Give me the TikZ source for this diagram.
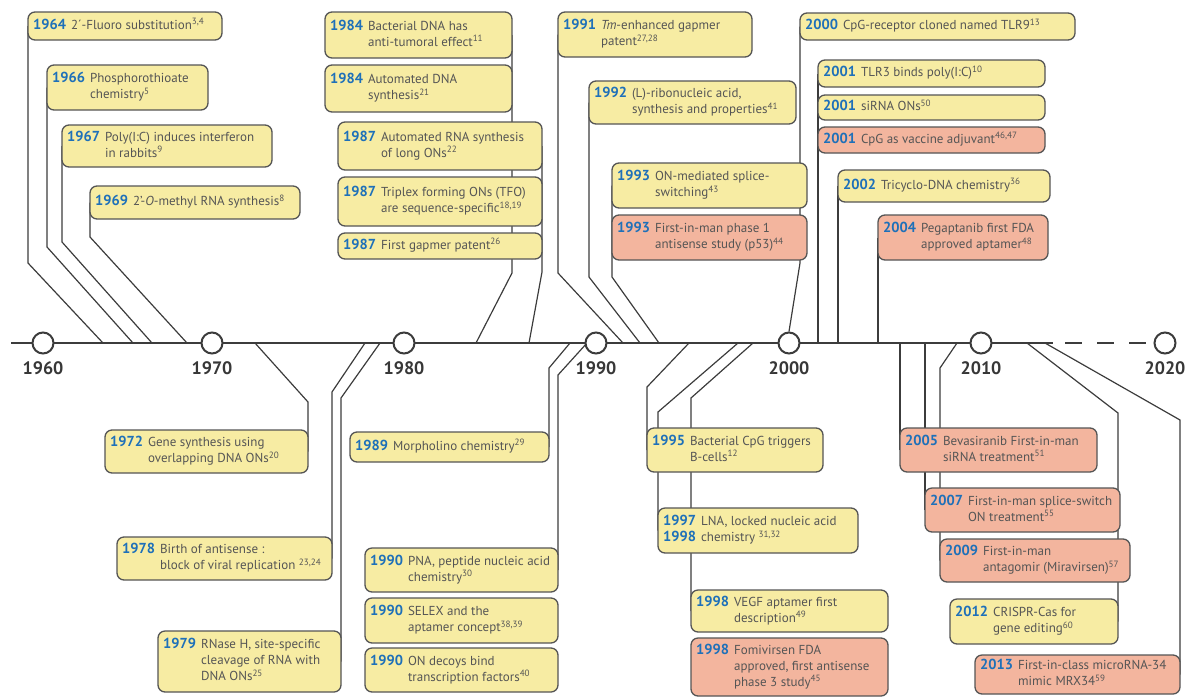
\documentclass[tikz,border=0pt]{standalone}
\usepackage{fontspec}
\setmainfont{PT Sans}
\usetikzlibrary{backgrounds}
\definecolor{yfill}{RGB}{247,236,163}
\definecolor{pfill}{RGB}{243,181,158}
\definecolor{bdraw}{RGB}{85,85,85}
\definecolor{yblue}{RGB}{30,112,185}
\definecolor{tgray}{RGB}{85,85,85}
\definecolor{lcol}{RGB}{60,60,60}
\definecolor{labcol}{RGB}{55,55,55}
\newcommand\yrfont{\fontsize{14.5}{16}\selectfont\bfseries\color{yblue}}
\newcommand\evbox[8]{%
  \node[#2, minimum width={#5-#3}, minimum height={#6-#4}, anchor=north west] (#1) at (#3,#4) {};
  \node[evtext, anchor=west] (#1t) at ([xshift=5pt]#1.west) {{\yrfont #7}\hspace{5pt}\begin{tabular}[t]{@{}l@{}}#8\end{tabular}};}
\newcommand\sps[1]{\textsuperscript{#1}}
\tikzset{
  ybox/.style={draw=bdraw, line width=1.3pt, fill=yfill, rounded corners=7pt, inner sep=0pt, outer sep=0pt},
  pbox/.style={ybox, fill=pfill},
  evtext/.style={inner sep=0pt, text=tgray, font=\fontsize{13}{16}\selectfont},
  tick/.style={circle, draw=lcol, line width=2pt, fill=white, minimum size=21pt, inner sep=0pt},
  ylab/.style={font=\fontsize{18}{18}\selectfont\bfseries, text=labcol, inner sep=0pt},
  axisline/.style={draw=lcol, line width=2pt},
  conn/.style={draw=lcol, line width=1.2pt},
}
\begin{document}
\begin{tikzpicture}[x=1pt,y=-1pt]
\useasboundingbox (0,0) rectangle (1191,697);
% axis ticks
\node[tick] (c1960) at (43,343) {};
\node[tick] (c1970) at (212,343) {};
\node[tick] (c1980) at (404,343) {};
\node[tick] (c1990) at (596,343) {};
\node[tick] (c2000) at (789,343) {};
\node[tick] (c2010) at (981,343) {};
\node[tick] (c2020) at (1165,343) {};
\node[ylab] (l1960) at (43,368) {1960};
\node[ylab] (l1970) at (212,368) {1970};
\node[ylab] (l1980) at (404,368) {1980};
\node[ylab] (l1990) at (596,368) {1990};
\node[ylab] (l2000) at (789,368) {2000};
\node[ylab] (l2010) at (981,368) {2010};
\node[ylab] (l2020) at (1165,368) {2020};
\coordinate (axL) at (11,343);
\coordinate (axE) at (1053,343);
\coordinate (axD) at (1065,343);
% top boxes
\evbox{b1964}{ybox}{28}{12}{222}{40}{1964}{2´-Fluoro substitution\sps{3,4}}
\evbox{b1966}{ybox}{47}{65}{208}{110}{1966}{Phosphorothioate\\chemistry\sps{5}}
\evbox{b1967}{ybox}{62}{125}{272}{167}{1967}{Poly(I:C) induces interferon\\in rabbits\sps{9}}
\evbox{b1969}{ybox}{90}{186}{300}{219}{1969}{2'-\textit{O}-methyl RNA synthesis\sps{8}}
\evbox{b1984a}{ybox}{325}{12}{512}{58}{1984}{Bacterial DNA has\\anti-tumoral effect\sps{11}}
\evbox{b1984b}{ybox}{325}{65}{512}{112}{1984}{Automated DNA\\synthesis\sps{21}}
\evbox{b1987a}{ybox}{338}{122}{542}{170}{1987}{Automated RNA synthesis\\of long ONs\sps{22}}
\evbox{b1987b}{ybox}{338}{177}{542}{226}{1987}{Triplex forming ONs (TFO)\\are sequence-specific\sps{18,19}}
\evbox{b1987c}{ybox}{338}{233}{542}{259}{1987}{First gapmer patent\sps{26}}
\evbox{b1991}{ybox}{558}{12}{752}{57}{1991}{\textit{Tm}-enhanced gapmer\\patent\sps{27,28}}
\evbox{b1992}{ybox}{589}{81}{796}{124}{1992}{(L)-ribonucleic acid,\\synthesis and properties\sps{41}}
\evbox{b1993a}{ybox}{612}{163}{807}{208}{1993}{ON-mediated splice-\\switching\sps{43}}
\evbox{b1993b}{pbox}{612}{215}{807}{260}{1993}{First-in-man phase 1\\antisense study (p53)\sps{44}}
\evbox{b2000}{ybox}{800}{13}{1075}{40}{2000}{CpG-receptor cloned named TLR9\sps{13}}
\evbox{b2001a}{ybox}{818}{60}{1045}{87}{2001}{TLR3 binds poly(I:C)\sps{10}}
\evbox{b2001b}{ybox}{818}{95}{1045}{120}{2001}{siRNA ONs\sps{50}}
\evbox{b2001c}{pbox}{818}{127}{1045}{153}{2001}{CpG as vaccine adjuvant\sps{46,47}}
\evbox{b2002}{ybox}{838}{170}{1050}{202}{2002}{Tricyclo-DNA chemistry\sps{36}}
\evbox{b2004}{pbox}{878}{215}{1048}{260}{2004}{Pegaptanib first FDA\\approved aptamer\sps{48}}
% bottom boxes
\evbox{b1972}{ybox}{105}{430}{308}{473}{1972}{Gene synthesis using\\overlapping DNA ONs\sps{20}}
\evbox{b1978}{ybox}{117}{537}{332}{580}{1978}{Birth of antisense :\\block of viral replication \sps{23,24}}
\evbox{b1979}{ybox}{158}{631}{341}{692}{1979}{RNase H, site-specific\\cleavage of RNA with\\DNA ONs\sps{25}}
\evbox{b1989}{ybox}{350}{432}{549}{462}{1989}{Morpholino chemistry\sps{29}}
\evbox{b1990a}{ybox}{365}{548}{558}{592}{1990}{PNA, peptide nucleic acid\\chemistry\sps{30}}
\evbox{b1990b}{ybox}{365}{598}{558}{643}{1990}{SELEX and the\\aptamer concept\sps{38,39}}
\evbox{b1990c}{ybox}{365}{648}{558}{692}{1990}{ON decoys bind\\transcription factors\sps{40}}
\evbox{b1995}{ybox}{647}{428}{823}{472}{1995}{Bacterial CpG triggers\\B-cells\sps{12}}
\evbox{b1997}{ybox}{658}{508}{858}{553}{\begin{tabular}[t]{@{}l@{}}1997\\1998\end{tabular}}{LNA, locked nucleic acid\\chemistry \sps{31,32}}
\evbox{b1998a}{ybox}{691}{590}{888}{632}{1998}{VEGF aptamer first\\description\sps{49}}
\evbox{b1998b}{pbox}{691}{638}{888}{696}{1998}{Fomivirsen FDA\\approved, first antisense\\phase 3 study\sps{45}}
\evbox{b2005}{pbox}{900}{428}{1097}{472}{2005}{Bevasiranib First-in-man\\siRNA treatment\sps{51}}
\evbox{b2007}{pbox}{925}{488}{1120}{532}{2007}{First-in-man splice-switch\\ON treatment\sps{55}}
\evbox{b2009}{pbox}{940}{539}{1130}{582}{2009}{First-in-man\\antagomir (Miravirsen)\sps{57}}
\evbox{b2012}{ybox}{950}{599}{1118}{644}{2012}{CRISPR-Cas for\\gene editing\sps{60}}
\evbox{b2013}{pbox}{975}{655}{1180}{694}{2013}{First-in-class microRNA-34\\mimic MRX34\sps{59}}
% axis points
\coordinate (a1964) at (103,343);
\coordinate (a1966) at (133,343);
\coordinate (a1967) at (152,343);
\coordinate (a1969) at (187,343);
\coordinate (a1984) at (476,343);
\coordinate (a1987) at (529,343);
\coordinate (a1991) at (623,343);
\coordinate (a1992) at (640,343);
\coordinate (a1993) at (659,343);
\coordinate (a1972) at (255,343);
\coordinate (a1978) at (365,343);
\coordinate (a1979) at (380,343);
\coordinate (a1989) at (570,343);
\coordinate (a1990) at (587,343);
\coordinate (a1995) at (689,343);
\coordinate (a1997) at (738,343);
\coordinate (a1998) at (753,343);
\coordinate (a2009) at (957,343);
\coordinate (a2012) at (1027,343);
\coordinate (a2013) at (1045,343);
\begin{pgfonlayer}{background}
\draw[axisline] (axL) -- (axE);
\draw[axisline, dash pattern=on 17pt off 15pt] (axD) -- (c2020.west);
% top connectors
\draw[conn] (b1964.west) -- (b1964.west |- 0,263) -- (a1964);
\draw[conn] (b1966.west) -- (b1966.west |- 0,247) -- (a1966);
\draw[conn] (b1967.west) -- (b1967.west |- 0,242) -- (a1967);
\draw[conn] (b1969.west) -- (b1969.west |- 0,237) -- (a1969);
\draw[conn] (b1984a.east) -- (b1984a.east |- 0,273) -- (a1984);
\draw[conn] (b1987a.east) -- (b1987a.east |- 0,272) -- (a1987);
\draw[conn] (b1991.west) -- (b1991.west |- 0,273) -- (a1991);
\draw[conn] (b1992.west) -- (b1992.west |- 0,277) -- (a1992);
\draw[conn] (b1993a.west) -- (b1993a.west |- 0,277) -- (a1993);
\draw[conn] (b2000.west) -- (b2000.west |- 0,263) -- (c2000.north);
\draw[conn] (b2001a.west) -- (b2001a.west |- axL);
\draw[conn] (b2002.west) -- (b2002.west |- axL);
\draw[conn] (b2004.west) -- (b2004.west |- axL);
% bottom connectors
\draw[conn] (b1972.east) -- (b1972.east |- 0,402) -- (a1972);
\draw[conn] (b1978.east) -- (b1978.east |- 0,392) -- (a1978);
\draw[conn] (b1979.east) -- (b1979.east |- 0,398) -- (a1979);
\draw[conn] (b1989.east) -- (b1989.east |- 0,368) -- (a1989);
\draw[conn] (b1990a.east) -- (b1990a.east |- 0,375) -- (a1990);
\draw[conn] (b1995.west) -- (b1995.west |- 0,387) -- (a1995);
\draw[conn] (b1997.west) -- (b1997.west |- 0,412) -- (a1997);
\draw[conn] (b1998a.west) -- (b1998a.west |- 0,398) -- (a1998);
\draw[conn] (b2005.west) -- (b2005.west |- axL);
\draw[conn] (b2007.west) -- (b2007.west |- axL);
\draw[conn] (b2009.west) -- (b2009.west |- 0,368) -- (a2009);
\draw[conn] (b2012.east) -- (b2012.east |- 0,413) -- (a2012);
\draw[conn] (b2013.east) -- (b2013.east |- 0,420) -- (a2013);
\end{pgfonlayer}
\end{tikzpicture}
\end{document}
